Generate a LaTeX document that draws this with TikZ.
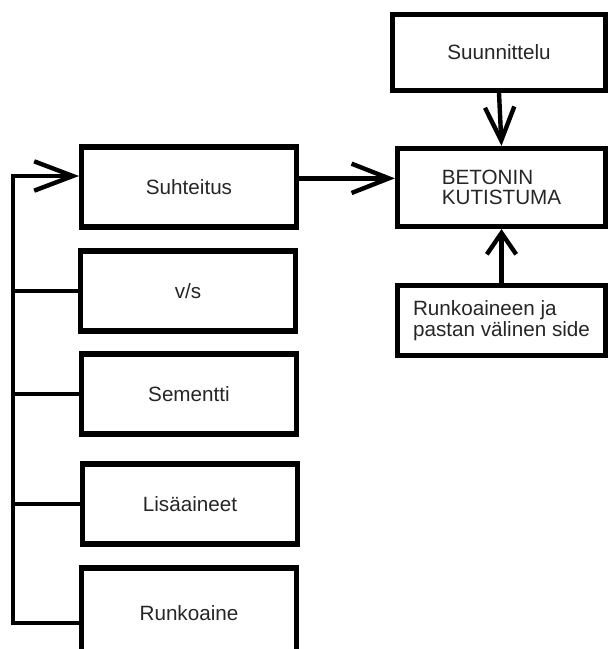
\documentclass[tikz,border=0pt]{standalone}
\usepackage{fontspec}
\setmainfont{Liberation Sans}
\usetikzlibrary{arrows.meta}

\begin{document}
\begin{tikzpicture}[x=0.75pt, y=-0.75pt,
  box/.style={draw, line width=3.9pt, inner sep=0pt, minimum width=161pt, minimum height=60pt,
    text=black!85, font=\fontsize{15.5}{15.5}\selectfont, align=center},
  conn/.style={line width=3.3pt},
  arr/.style={line width=3.3pt, -{Straight Barb[length=#1, width=22pt]}},
  arr/.default=26pt]
  \useasboundingbox (0,0) rectangle (608,649);
  \clip (0,0) rectangle (608,649);

  % factors on the left
  \node[box] (suht) at (189,187) {Suhteitus};
  \node[box] (vs) at (188,291) {v/s};
  \node[box] (sem) at (189,394) {Sementti};
  \node[box] (lisa) at (190,504) {Lisäaineet};
  \node[box, minimum height=67.5pt] (runko) at (189,613) {Runkoaine};

  % right column
  \node[box, minimum width=160pt, minimum height=57pt] (suun) at (499,52.5) {Suunnittelu};
  \node[box, minimum width=156pt, minimum height=58.5pt, align=left] (bet) at (501.5,187.5) {BETONIN\\KUTISTUMA};
  \node[box, minimum width=156pt, minimum height=52.5pt, align=left] (side) at (501.5,320.5) {Runkoaineen ja\\pastan välinen side};

  % trunk on the left
  \coordinate (top) at (13,176);
  \coordinate (bot) at (13,623);
  \draw[arr=29pt] (bot -| runko.west) -- (bot) -- (top) -- (top -| suht.west);
  \draw[conn] (vs.west -| top) -- (vs.west);
  \draw[conn] (sem.west -| top) -- (sem.west);
  \draw[conn] (lisa.west -| top) -- (lisa.west);

  % into the shrinkage box
  \draw[arr=28pt] ([yshift=6.5pt]suht.east) -- ([yshift=6.5pt]suht.east -| bet.west);
  \draw[arr=25pt] (suun.south) -- (bet.north);
  \draw[arr=16pt] (side.north) -- (bet.south);
\end{tikzpicture}
\end{document}
